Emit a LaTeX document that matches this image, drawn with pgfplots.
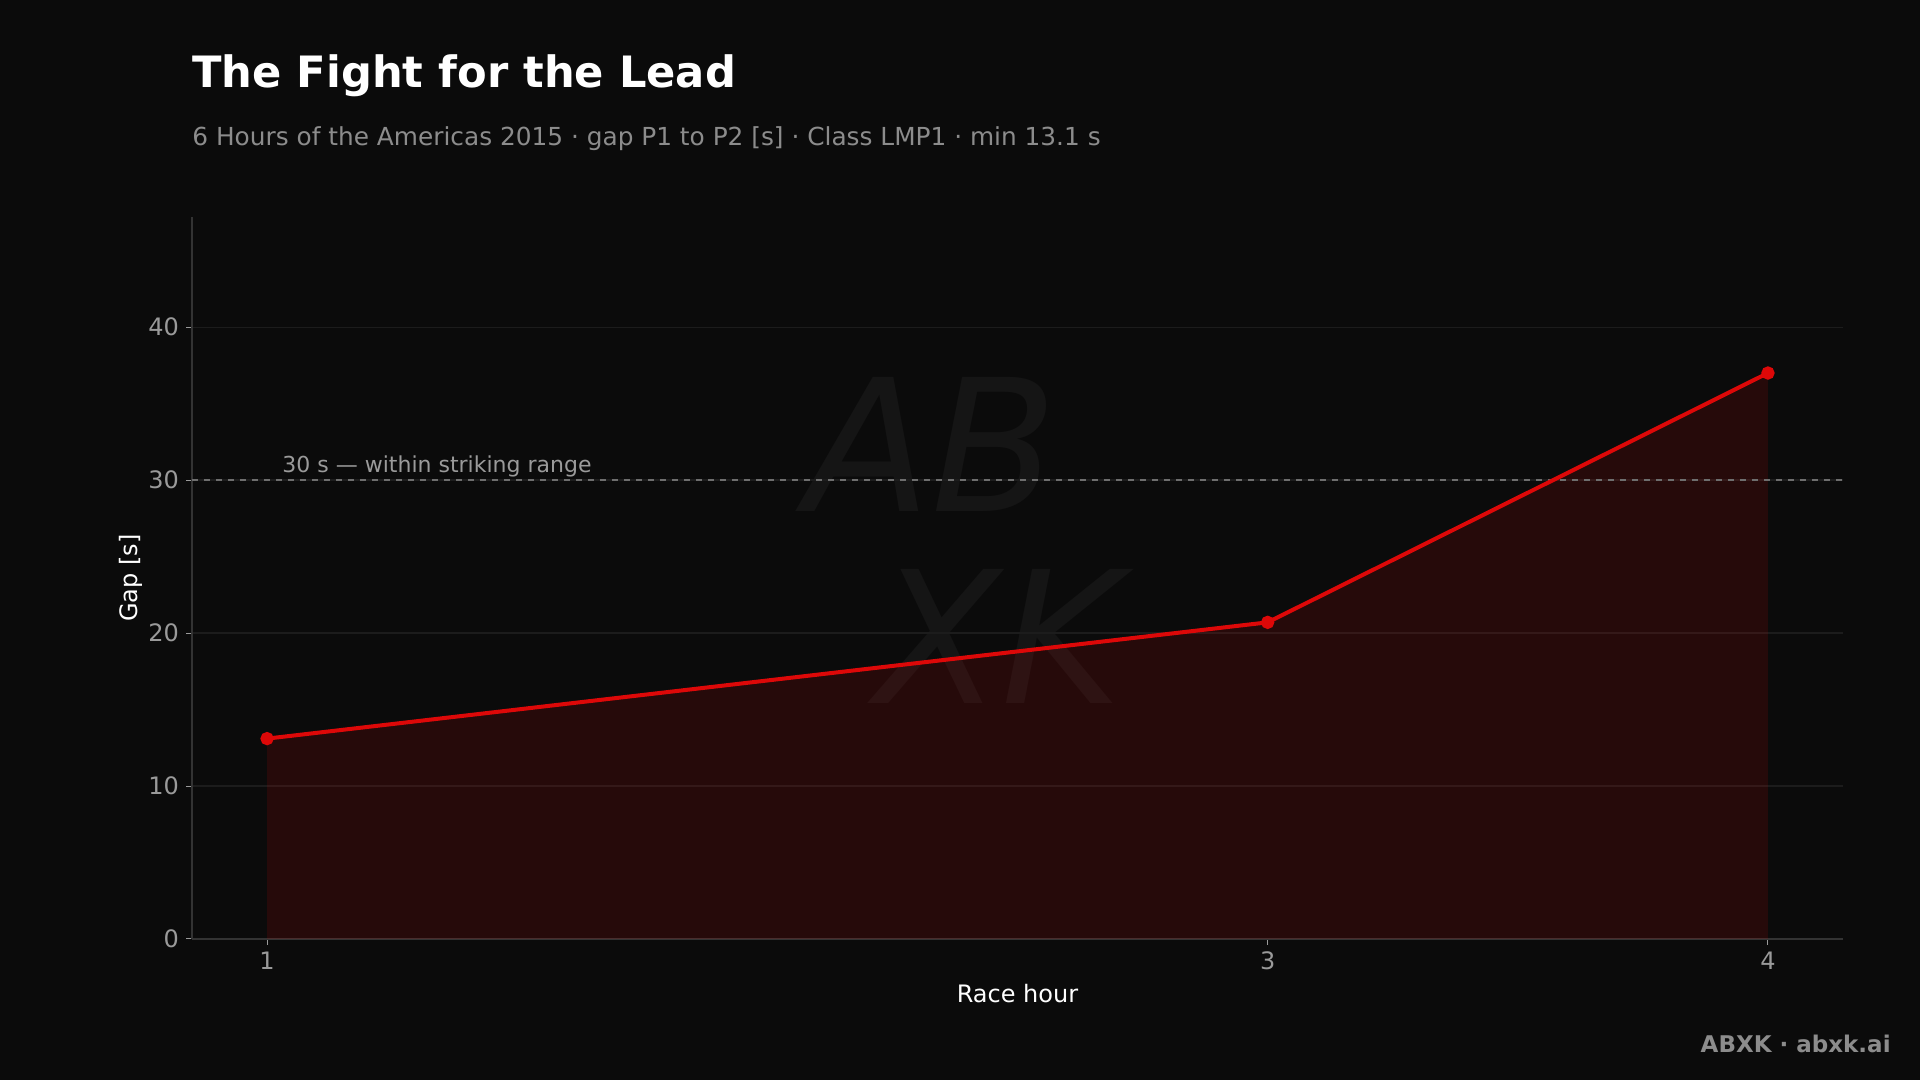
\documentclass[border=0pt]{standalone}
\usepackage{pgfplots}
\pgfplotsset{compat=1.18}
\usepackage{fontspec}
\setmainfont{DejaVu Sans}
\definecolor{bg}{HTML}{0B0B0B}
\definecolor{linered}{HTML}{DD0808}
\definecolor{ticklab}{HTML}{9A9A9A}
\definecolor{subgray}{HTML}{8C8C8C}
\definecolor{gridc}{HTML}{1C1C1C}
\definecolor{axisc}{HTML}{333333}
\definecolor{dashc}{HTML}{6E6E6E}
\definecolor{wmark}{HTML}{151515}
\begin{document}
\begin{tikzpicture}
\fill[bg] (0pt,0pt) rectangle (960pt,540pt);
\node[anchor=center, inner sep=0, text=wmark, align=left, font=\fontsize{92}{96}\selectfont\itshape] at (482pt,270pt) {AB\\\hspace*{35pt}XK};
\node[anchor=base west, inner sep=0, text=white, font=\fontsize{21.6}{26}\selectfont\bfseries] at (96pt,496pt) {The Fight for the Lead};
\node[anchor=base west, inner sep=0, text=subgray, font=\fontsize{12.4}{14}\selectfont] at (96pt,467pt) {6 Hours of the Americas 2015 · gap P1 to P2 [s] · Class LMP1 · min 13.1 s};
\node[anchor=base east, inner sep=0, text=subgray, font=\fontsize{11.5}{14}\selectfont\bfseries] at (945.5pt,13.5pt) {ABXK · abxk.ai};
\begin{axis}[
  at={(96pt,70.5pt)}, anchor=south west,
  width=825.5pt, height=361pt, scale only axis,
  xmin=0.85, xmax=4.15, ymin=0, ymax=47.2,
  axis x line*=bottom, axis y line*=left,
  axis line style={draw=axisc, line width=0.6pt},
  xtick={1,3,4}, ytick={0,10,20,30,40},
  tick style={draw=ticklab, line width=0.5pt},
  tick align=outside, major tick length=3pt,
  ymajorgrids, grid style={draw=gridc, line width=0.6pt},
  ticklabel style={text=ticklab, font=\fontsize{12}{14}\selectfont},
  /pgf/number format/assume math mode=true,
  xlabel={Race hour}, ylabel={Gap [s]},
  label style={text=white, font=\fontsize{12}{14}\selectfont},
  xlabel style={yshift=0pt},
  ylabel style={yshift=-4pt},
  clip=false,
]
\addplot[draw=none, fill=linered, fill opacity=0.13] coordinates {(1,13.1) (3,20.7) (4,37.0)} \closedcycle;
\addplot[draw=dashc, dashed, line width=0.6pt, forget plot] coordinates {(0.85,30) (4.15,30)};
\addplot[draw=linered, line width=2pt, mark=*, mark size=2.3pt, mark options={fill=linered, draw=linered}] coordinates {(1,13.1) (3,20.7) (4,37.0)};
\node[anchor=base west, inner sep=0, text=ticklab, font=\fontsize{11}{13}\selectfont] at (axis cs:1.03,30.5) {30 s — within striking range};
\end{axis}
\end{tikzpicture}
\end{document}
